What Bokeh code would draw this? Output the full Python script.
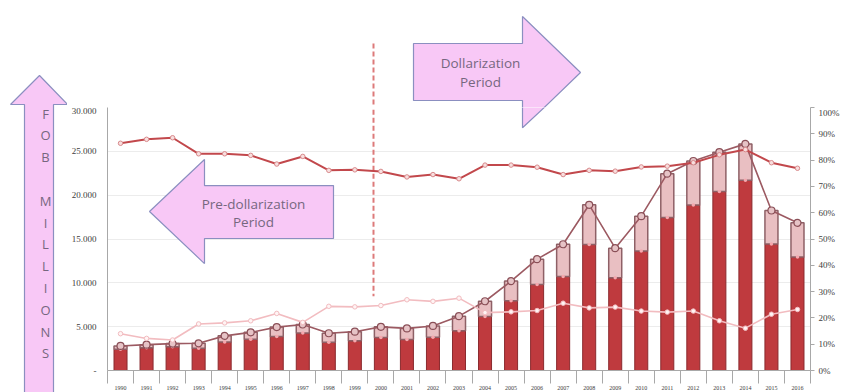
from bokeh.plotting import figure
from bokeh.layouts import column, row
from bokeh.models import Range1d, LinearAxis, FixedTicker, ColumnDataSource
from bokeh.core.properties import value
from bokeh.embed import file_html
from bokeh.resources import INLINE

# Exports, FOB millions, by year
years = ["1990", "1991", "1992", "1993", "1994", "1995", "1996", "1997", "1998",
         "1999", "2000", "2001", "2002", "2003", "2004", "2005", "2006", "2007",
         "2008", "2009", "2010", "2011", "2012", "2013", "2014", "2015", "2016"]

primary = [2420, 2590, 2720, 2550, 3250, 3560, 3890, 4270, 3230,
           3380, 3770, 3530, 3780, 4520, 6170, 7970, 9820, 10730,
           14380, 10570, 13620, 17440, 18880, 20420, 21710, 14420, 12960]

industrial = [380, 360, 350, 550, 700, 790, 1060, 980, 1020,
              1050, 1210, 1270, 1300, 1680, 1730, 2230, 2880, 3670,
              4520, 3380, 3980, 5010, 5020, 4480, 4140, 3830, 3890]

# Shares of total exports, percent
primary_share = [86.4, 87.9, 88.5, 82.4, 82.4, 81.8, 78.5, 81.4, 76.1,
                 76.3, 75.7, 73.6, 74.5, 72.9, 78.1, 78.1, 77.3, 74.5,
                 76.1, 75.8, 77.4, 77.7, 79.0, 82.0, 84.0, 79.0, 76.9]

industrial_share = [14.0, 12.2, 11.6, 17.7, 18.1, 18.9, 21.7, 18.3, 24.4,
                    24.2, 24.7, 26.9, 26.3, 27.5, 22.0, 22.3, 22.8, 25.6,
                    23.8, 24.1, 22.6, 22.2, 22.6, 18.9, 16.1, 21.4, 23.2]

left_ticks = [0, 5000, 10000, 15000, 20000, 25000, 30000]
left_labels = ["-", "5.000", "10.000", "15.000", "20.000", "25.000", "30.000"]
right_ticks = [0, 10, 20, 30, 40, 50, 60, 70, 80, 90, 100]

xs = list(range(len(years)))
total = [a + b for a, b in zip(primary, industrial)]

src = ColumnDataSource(dict(x=xs, primary=primary, total=total,
                            pshare=primary_share, ishare=industrial_share))

AX_FONT = "Liberation Sans Narrow"
LABEL_COLOR = "#404040"
AXIS_COLOR = "#a8a8a8"
ARROW_FILL = "#f8c8f6"
ARROW_LINE = "#8b8fc0"
TEXT_COLOR = "#76677f"
TXT_FONT = "Open Sans"
DIVIDER_COLOR = "#dd7a7a"

# Page layout in pixels: a narrow full-height column on the left,
# a strip above the chart, and the chart itself.
PAGE_W, PAGE_H = 842, 392
TOP_H, LEFT_W = 107, 67
FRAME_L, FRAME_R, FRAME_T, FRAME_B = 107, 810, 107, 380

# Callout shapes, in page pixels (y grows downward)
up_arrow = ([24, 24, 10, 39, 67, 53, 53], [420, 104, 104, 75, 104, 104, 420])
left_arrow = ([333, 204, 204, 149, 204, 204, 333], [188, 188, 161, 215, 269, 243, 243])
right_arrow = ([413, 522, 522, 580, 522, 522, 413], [43, 43, 16, 72, 128, 100, 100])
divider = ([373, 373], [43, 303])


def blank_panel(width, height, x0, x1, y0, y1, border_l=0, border_r=0):
    f = figure(width=width, height=height, output_backend="svg", toolbar_location=None,
               x_range=Range1d(x0, x1), y_range=Range1d(y1, y0),
               x_axis_type=None, y_axis_type=None, min_border=0,
               min_border_left=border_l, min_border_right=border_r,
               outline_line_color=None, background_fill_color="white",
               border_fill_color="white")
    f.grid.visible = False
    return f


def draw_arrow(f, shape, **kw):
    f.patch(shape[0], shape[1], fill_color=ARROW_FILL, line_color=ARROW_LINE,
            line_width=1.2, **kw)


def draw_divider(f, **kw):
    f.line(divider[0], divider[1], line_color=DIVIDER_COLOR, line_width=2,
           line_dash="5 3", **kw)


def draw_text(f, texts, xs_, ys_, size, **kw):
    f.text(x=xs_, y=ys_, text=texts, text_align="center", text_baseline="middle",
           text_font=value(TXT_FONT), text_font_size=size, text_color=TEXT_COLOR, **kw)


# ---- left column with the unit arrow ----
left = blank_panel(LEFT_W, PAGE_H, 0, LEFT_W, 0, PAGE_H)
draw_arrow(left, up_arrow)
letters = ["F", "O", "B", "M", "I", "L", "L", "I", "O", "N", "S"]
slots = [0, 1, 2, 4, 5, 6, 7, 8, 9, 10, 11]
draw_text(left, letters, [45] * len(letters), [113 + s * 21.8 for s in slots], "13px")

# ---- strip above the chart (its frame lines up with the chart frame) ----
top = blank_panel(PAGE_W - LEFT_W, TOP_H, FRAME_L, FRAME_R, 0, TOP_H,
                  border_l=FRAME_L - LEFT_W, border_r=PAGE_W - FRAME_R)
draw_arrow(top, right_arrow)
draw_divider(top)
draw_text(top, ["Dollarization", "Period"], [480, 480], [62, 81], "13.5px")

# ---- main chart ----
p = figure(width=PAGE_W - LEFT_W, height=PAGE_H - TOP_H, output_backend="svg",
           toolbar_location=None,
           x_range=Range1d(-0.5, len(years) - 0.5), y_range=Range1d(0, 30000),
           min_border_left=FRAME_L - LEFT_W, min_border_right=PAGE_W - FRAME_R,
           min_border_top=0, min_border_bottom=PAGE_H - FRAME_B,
           background_fill_color="white", border_fill_color="white",
           outline_line_color=None)
p.extra_y_ranges = {"pct": Range1d(0, 100),
                    "py": Range1d(FRAME_B, FRAME_T)}
p.extra_x_ranges = {"px": Range1d(FRAME_L, FRAME_R)}

# x axis: year cells separated by minor ticks
xa = p.xaxis[0]
xa.ticker = FixedTicker(ticks=xs, minor_ticks=[i - 0.5 for i in range(len(years) + 1)])
xa.major_label_overrides = {i: y for i, y in enumerate(years)}
xa.major_tick_out = 0
xa.major_tick_in = 0
xa.minor_tick_out = 13
xa.minor_tick_in = 0
xa.minor_tick_line_color = AXIS_COLOR
xa.axis_line_color = AXIS_COLOR
xa.major_label_standoff = 2
xa.major_label_text_font = AX_FONT
xa.major_label_text_font_size = "6px"
xa.major_label_text_color = LABEL_COLOR

# left axis
ya = p.yaxis[0]
ya.ticker = FixedTicker(ticks=left_ticks)
ya.major_label_overrides = dict(zip(left_ticks, left_labels))
ya.major_tick_out = 0
ya.major_tick_in = 0
ya.minor_tick_line_color = None
ya.axis_line_color = AXIS_COLOR
ya.major_label_standoff = 11
ya.major_label_text_font = AX_FONT
ya.major_label_text_font_size = "9px"
ya.major_label_text_color = LABEL_COLOR

# right axis (percent)
ra = LinearAxis(y_range_name="pct", ticker=FixedTicker(ticks=right_ticks))
ra.major_label_overrides = {t: f"{t}%" for t in right_ticks}
ra.major_tick_out = 4
ra.major_tick_in = 0
ra.major_tick_line_color = AXIS_COLOR
ra.minor_tick_line_color = None
ra.axis_line_color = AXIS_COLOR
ra.major_label_standoff = 4
ra.major_label_text_font = AX_FONT
ra.major_label_text_font_size = "9px"
ra.major_label_text_color = LABEL_COLOR
p.add_layout(ra, "right")

p.xgrid.grid_line_color = None
p.ygrid.ticker = FixedTicker(ticks=left_ticks)
p.ygrid.grid_line_color = "#ececec"

# callouts inside the chart area
draw_arrow(p, left_arrow, x_range_name="px", y_range_name="py")
draw_arrow(p, right_arrow, x_range_name="px", y_range_name="py")
draw_divider(p, x_range_name="px", y_range_name="py")
draw_text(p, ["Pre-dollarization", "Period"], [253, 253], [207, 226], "13.5px",
          x_range_name="px", y_range_name="py")

# stacked columns
p.vbar(x="x", bottom=0, top="primary", width=0.5, source=src,
       fill_color="#bf3a3e", line_color="#8a2a2e", line_width=1)
p.vbar(x="x", bottom="primary", top="total", width=0.5, source=src,
       fill_color="#e9bfc2", line_color="#8e6066", line_width=1.5)
p.scatter(x="x", y="primary", source=src, marker="circle", size=3.5,
          fill_color="#f5a8ae", line_color=None)

# total exports line
p.line(x="x", y="total", source=src, line_color="#9c5a62", line_width=1.6)
p.scatter(x="x", y="total", source=src, marker="circle", size=7,
          fill_color="#e6c3c6", line_color="#8a4f57", line_width=1.2)

# shares (right axis)
p.line(x="x", y="ishare", source=src, y_range_name="pct",
       line_color="#f2bcc0", line_width=1.6)
p.scatter(x="x", y="ishare", source=src, y_range_name="pct", marker="circle",
          size=4.5, fill_color="#fff4f4", line_color="#f2bcc0", line_width=1)
p.line(x="x", y="pshare", source=src, y_range_name="pct",
       line_color="#c2484c", line_width=2)
p.scatter(x="x", y="pshare", source=src, y_range_name="pct", marker="circle",
          size=4.5, fill_color="#f8dede", line_color="#d88a8c", line_width=1)

page = row(left, column(top, p, spacing=0), spacing=0)
open("out.html", "w").write(file_html(page, INLINE))
